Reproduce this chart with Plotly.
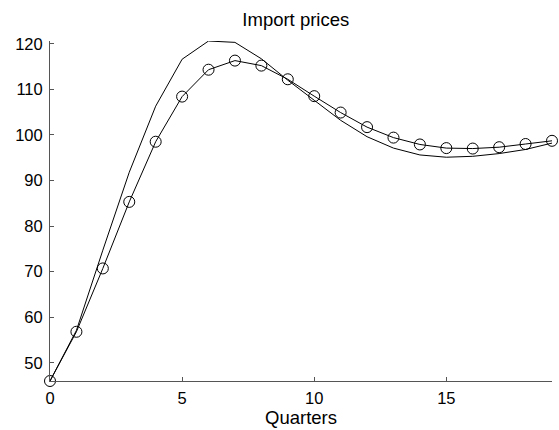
import plotly.graph_objects as go

# Quarterly horizon and the two import-price paths
quarters = list(range(20))
price_path_a = [46.0, 57.1, 74.7, 91.8, 106.3, 116.6, 120.6, 120.3, 116.7, 112.0,
                107.6, 103.2, 99.6, 97.1, 95.6, 95.1, 95.3, 95.9, 96.8, 98.2]
price_path_b = [46.0, 56.8, 70.7, 85.3, 98.5, 108.4, 114.3, 116.3, 115.2, 112.2,
                108.5, 104.9, 101.7, 99.4, 97.9, 97.1, 97.0, 97.3, 98.0, 98.7]

x_ticks = [0, 5, 10, 15]
y_ticks = [50, 60, 70, 80, 90, 100, 110, 120]

FONT = "Liberation Sans, Arial, Helvetica, sans-serif"

fig = go.Figure()
fig.add_trace(go.Scatter(
    x=quarters, y=price_path_a, mode="lines",
    line=dict(color="black", width=1), showlegend=False,
))
fig.add_trace(go.Scatter(
    x=quarters, y=price_path_b, mode="lines+markers",
    line=dict(color="black", width=1),
    marker=dict(symbol="circle-open", size=11, color="black", line=dict(width=1)),
    showlegend=False, cliponaxis=False,
))

fig.update_layout(
    width=559, height=430,
    margin=dict(l=50, r=7, t=41, b=49),
    paper_bgcolor="white", plot_bgcolor="white",
    font=dict(family=FONT, size=16.5, color="black"),
    title=dict(text="Import prices", x=295.8 / 559, xanchor="center",
               y=1 - 20 / 430, yanchor="middle",
               font=dict(family=FONT, size=18.5, color="black")),
)
fig.update_xaxes(
    range=[0, 19], tickvals=x_ticks, ticks="inside", ticklen=4,
    tickcolor="#555555", showline=True, linecolor="#555555", linewidth=1,
    showgrid=False, zeroline=False, ticklabelstandoff=2,
    title=dict(text="Quarters", standoff=3, font=dict(family=FONT, size=18.5)),
    tickfont=dict(family=FONT, size=16.5),
)
fig.update_yaxes(
    range=[46, 120.6], tickvals=y_ticks, ticks="inside", ticklen=4,
    tickcolor="#555555", showline=True, linecolor="#555555", linewidth=1,
    showgrid=False, zeroline=False, ticklabelstandoff=3,
    tickfont=dict(family=FONT, size=16.5),
)

fig.write_html("out.html")
